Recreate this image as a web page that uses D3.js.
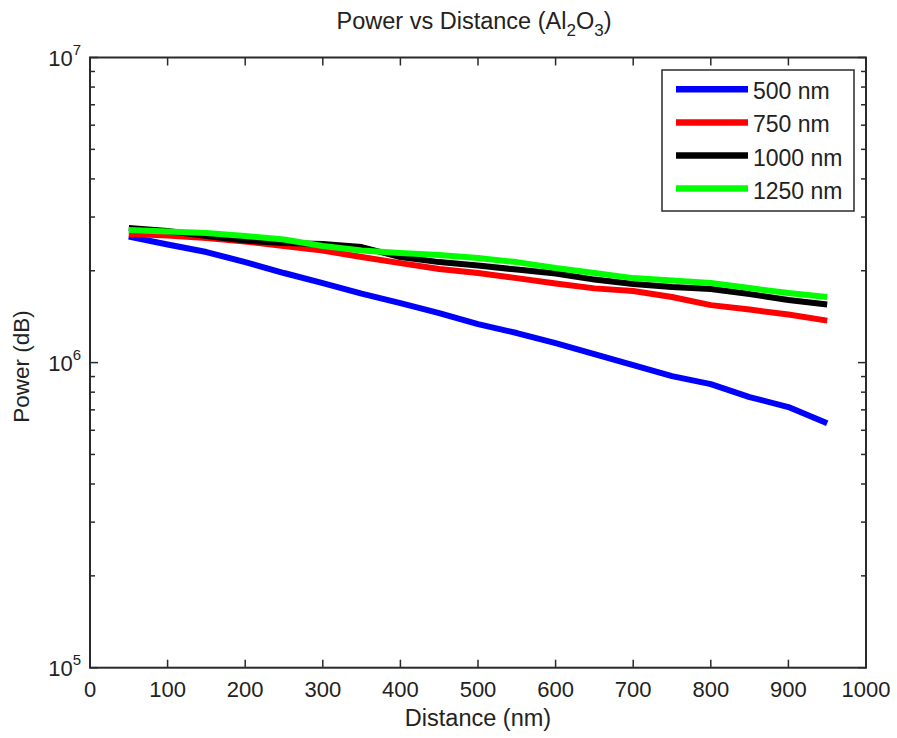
<!DOCTYPE html>
<html>
<head>
<meta charset="utf-8">
<script src="https://cdn.jsdelivr.net/npm/d3@7"></script>
<style>
  html, body { margin: 0; padding: 0; background: #fff; }
  svg { display: block; }
  text { font-family: "Liberation Sans", Arial, sans-serif; fill: #222; }
</style>
</head>
<body>
<svg id="chart" width="897" height="738"></svg>
<script>
// ---- data ----
const distance = [50, 100, 150, 200, 250, 300, 350, 400, 450, 500, 550, 600, 650, 700, 750, 800, 850, 900, 950];
const power500 = [2.588e6, 2.438e6, 2.303e6, 2.135e6, 1.966e6, 1.823e6, 1.684e6, 1.567e6, 1.453e6, 1.337e6,
                  1.250e6, 1.158e6, 1.066e6, 9.81e5, 9.03e5, 8.50e5, 7.71e5, 7.15e5, 6.33e5];
const power750 = [2.638e6, 2.608e6, 2.559e6, 2.493e6, 2.410e6, 2.329e6, 2.218e6, 2.119e6, 2.026e6, 1.966e6,
                  1.892e6, 1.816e6, 1.751e6, 1.716e6, 1.640e6, 1.543e6, 1.492e6, 1.437e6, 1.373e6];
const power1000 = [2.761e6, 2.699e6, 2.599e6, 2.512e6, 2.465e6, 2.447e6, 2.392e6, 2.218e6, 2.135e6, 2.080e6,
                   2.018e6, 1.958e6, 1.871e6, 1.809e6, 1.768e6, 1.742e6, 1.677e6, 1.603e6, 1.550e6];
const power1250 = [2.719e6, 2.689e6, 2.658e6, 2.599e6, 2.531e6, 2.410e6, 2.329e6, 2.286e6, 2.251e6, 2.201e6,
                   2.135e6, 2.041e6, 1.966e6, 1.892e6, 1.857e6, 1.823e6, 1.755e6, 1.690e6, 1.640e6];
const seriesNames = ["500 nm", "750 nm", "1000 nm", "1250 nm"];
const seriesColors = ["#0000ff", "#ff0000", "#000000", "#00ff00"];
const xTicks = [0, 100, 200, 300, 400, 500, 600, 700, 800, 900, 1000];
const yMajorExp = [5, 6, 7];

const allSeries = [power500, power750, power1000, power1250];

// ---- layout ----
const svg = d3.select("#chart");
const L = 90, R = 866, T = 57.5, B = 667.7;
const x = d3.scaleLinear().domain([0, 1000]).range([L, R]);
const y = d3.scaleLog().domain([1e5, 1e7]).range([B, T]);
const axisColor = "#2a2a2a";
const fs = 22;

svg.append("rect").attr("x", L).attr("y", T).attr("width", R - L).attr("height", B - T).attr("fill", "#fff");

// ---- series ----
const line = d3.line().x((d, i) => x(distance[i])).y(d => y(d));
allSeries.forEach((s, k) => {
  svg.append("path").datum(s).attr("d", line)
    .attr("fill", "none").attr("stroke", seriesColors[k]).attr("stroke-width", 6)
    .attr("stroke-linejoin", "round");
});

// ---- axes (box style, ticks inside) ----
const gAx = svg.append("g");
gAx.append("rect").attr("x", L).attr("y", T).attr("width", R - L).attr("height", B - T)
  .attr("fill", "none").attr("stroke", axisColor).attr("stroke-width", 2);

xTicks.forEach(t => {
  const px = x(t);
  gAx.append("line").attr("x1", px).attr("x2", px).attr("y1", B).attr("y2", B - 8).attr("stroke", axisColor).attr("stroke-width", 1.5);
  gAx.append("line").attr("x1", px).attr("x2", px).attr("y1", T).attr("y2", T + 8).attr("stroke", axisColor).attr("stroke-width", 1.5);
  gAx.append("text").attr("x", px).attr("y", B + 29).attr("text-anchor", "middle")
    .attr("font-size", fs).text(t);
});

const yMinor = [];
for (let e = 5; e < 7; e++) for (let m = 2; m <= 9; m++) yMinor.push(m * Math.pow(10, e));
yMinor.forEach(v => {
  const py = y(v);
  gAx.append("line").attr("x1", L).attr("x2", L + 5).attr("y1", py).attr("y2", py).attr("stroke", axisColor).attr("stroke-width", 1.5);
  gAx.append("line").attr("x1", R).attr("x2", R - 5).attr("y1", py).attr("y2", py).attr("stroke", axisColor).attr("stroke-width", 1.5);
});
yMajorExp.forEach(e => {
  const py = y(Math.pow(10, e));
  gAx.append("line").attr("x1", L).attr("x2", L + 8).attr("y1", py).attr("y2", py).attr("stroke", axisColor).attr("stroke-width", 1.5);
  gAx.append("line").attr("x1", R).attr("x2", R - 8).attr("y1", py).attr("y2", py).attr("stroke", axisColor).attr("stroke-width", 1.5);
  const t = gAx.append("text").attr("x", L - 9).attr("y", py + 8).attr("text-anchor", "end").attr("font-size", fs);
  t.append("tspan").text("10");
  t.append("tspan").attr("dy", -11).attr("font-size", 15).text(e);
});

// axis labels
svg.append("text").attr("x", (L + R) / 2).attr("y", B + 58).attr("text-anchor", "middle")
  .attr("font-size", 23.5).text("Distance (nm)");
svg.append("text").attr("transform", `translate(29,${(T + B) / 2 + 4}) rotate(-90)`)
  .attr("text-anchor", "middle").attr("font-size", 22.5).text("Power (dB)");

// title with subscripts
const title = svg.append("text").attr("x", (L + R) / 2 - 4).attr("y", 29).attr("text-anchor", "middle").attr("font-size", 23.5);
title.append("tspan").text("Power vs Distance (Al");
title.append("tspan").attr("dy", 7).attr("font-size", 17).text("2");
title.append("tspan").attr("dy", -7).text("O");
title.append("tspan").attr("dy", 7).attr("font-size", 17).text("3");
title.append("tspan").attr("dy", -7).text(")");

// ---- legend ----
const lg = svg.append("g");
lg.append("rect").attr("x", 662).attr("y", 70).attr("width", 192).attr("height", 141)
  .attr("fill", "#fff").attr("stroke", axisColor).attr("stroke-width", 1.5);
seriesNames.forEach((n, k) => {
  const ly = 89.3 + k * 33.1;
  lg.append("line").attr("x1", 676).attr("x2", 748).attr("y1", ly).attr("y2", ly)
    .attr("stroke", seriesColors[k]).attr("stroke-width", 6.5);
  lg.append("text").attr("x", 753).attr("y", ly + 10).attr("font-size", 23).text(n);
});
</script>
</body>
</html>
